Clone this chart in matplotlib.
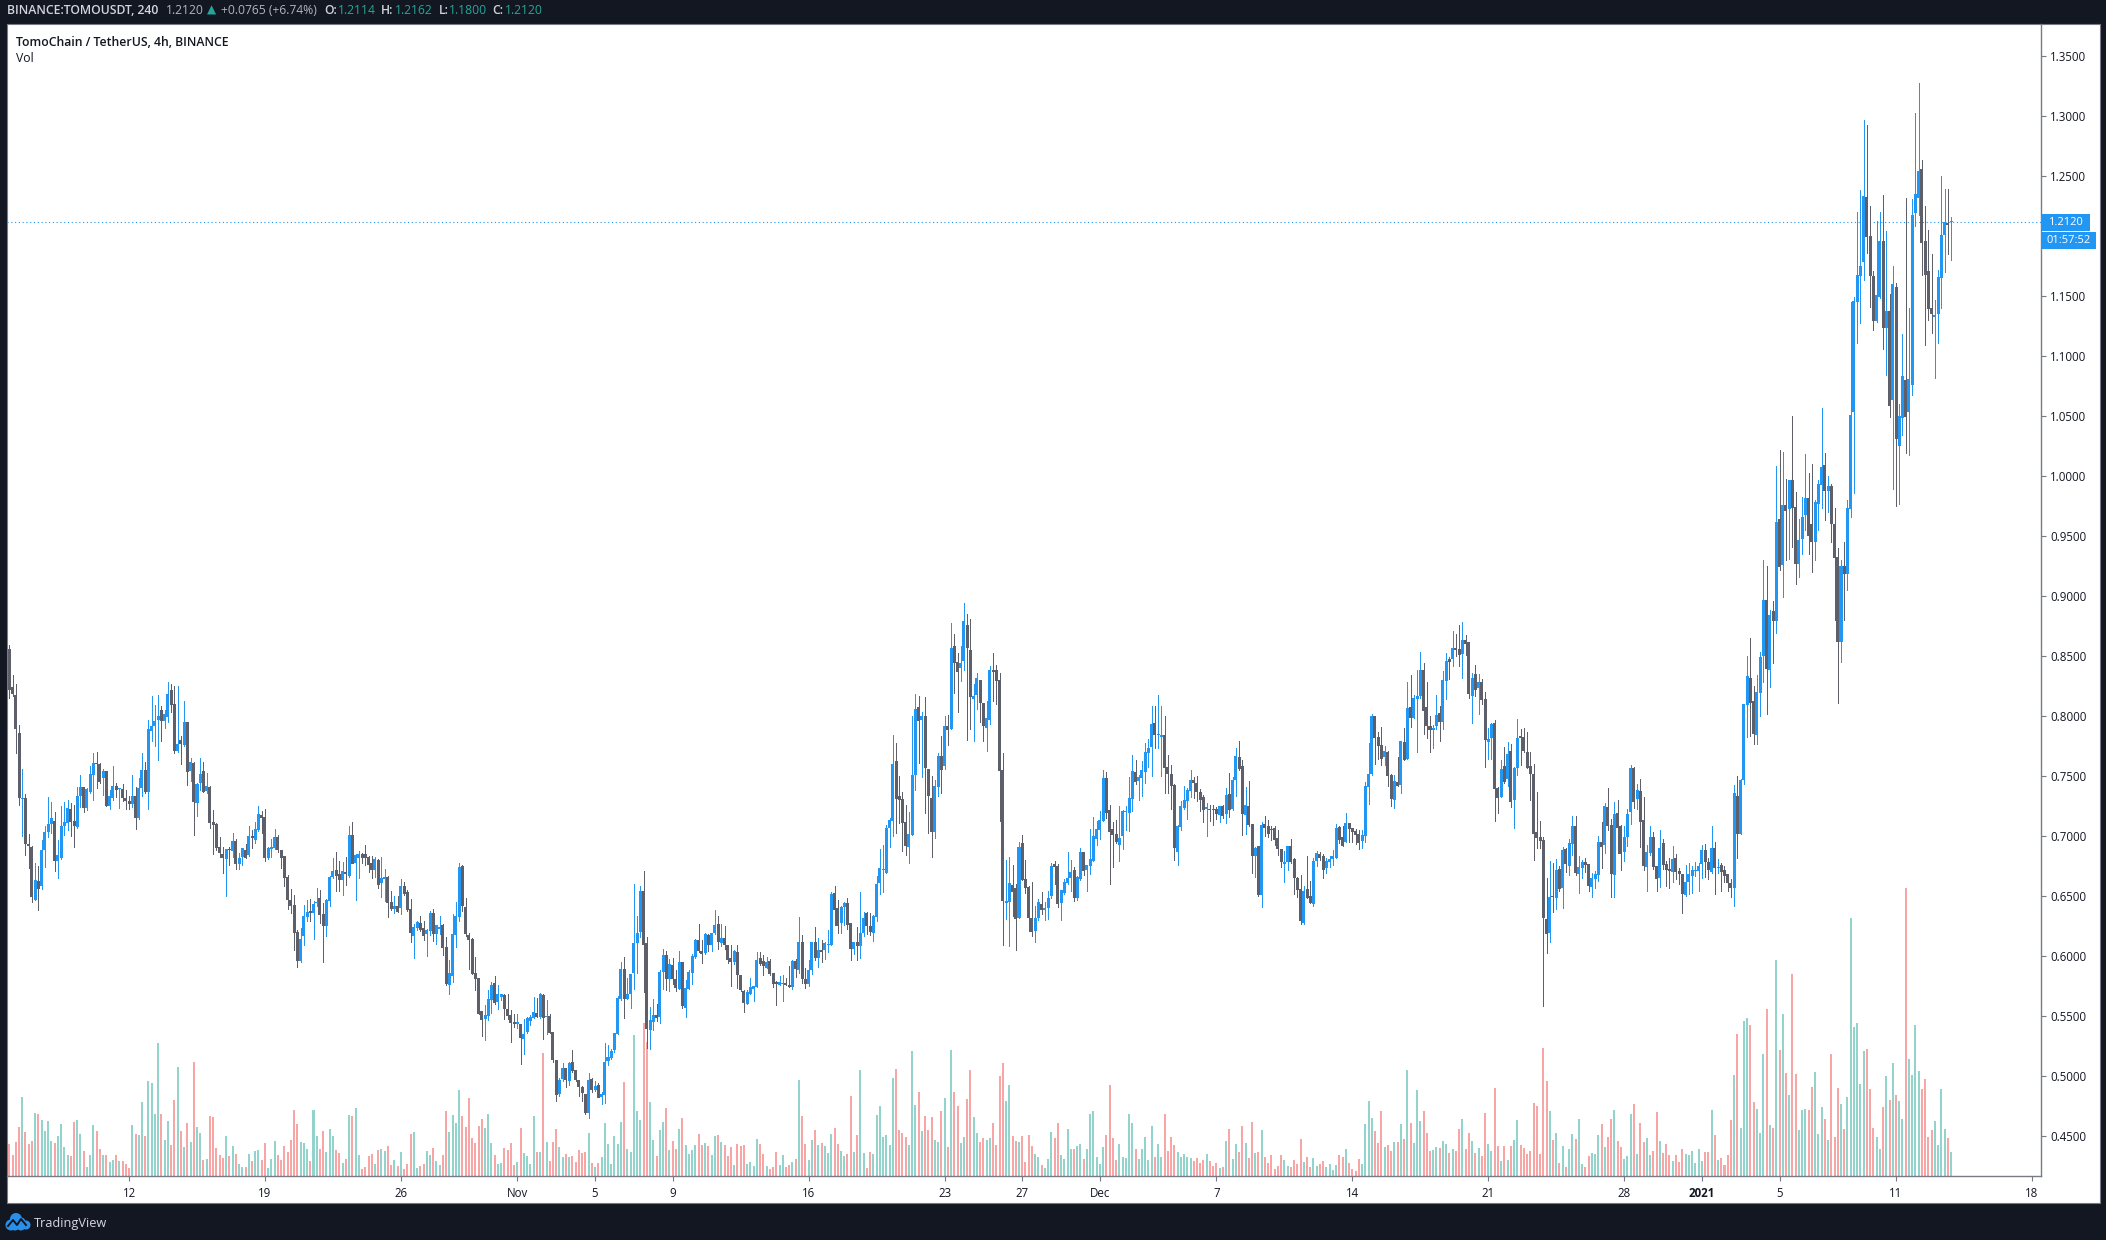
import numpy as np
import matplotlib
matplotlib.use("Agg")
import matplotlib.pyplot as plt
from matplotlib.patches import Rectangle, Circle

plt.rcParams["font.family"] = ["Open Sans", "DejaVu Sans"]

# 4h candles, TOMOUSDT
opens = [
.856,.824,.8175,.786,.7308,.732,.693,.691,.647,.6625,
.658,.688,.703,.710,.7125,.679,.682,.708,.711,.7225,
.7125,.7075,.733,.741,.723,.737,.751,.7605,.760,.748,
.754,.725,.732,.7417,.7388,.739,.732,.729,.727,.733,
.715,.74,.755,.7367,.7875,.7917,.7967,.805,.796,.799,
.8217,.81,.771,.78,.776,.795,.754,.761,.7275,.744,
.754,.7375,.741,.7114,.71,.691,.685,.681,.689,.6875,
.696,.677,.6825,.6883,.684,.70,.6967,.705,.7175,.7158,
.6817,.689,.69,.699,.6883,.6833,.666,.6467,.6425,.6197,
.5958,.6166,.6327,.6375,.636,.6444,.648,.635,.625,.6461,
.6658,.6717,.6683,.6633,.67,.6667,.7008,.6775,.6817,.685,
.685,.6825,.6775,.6717,.68,.6608,.6644,.6658,.645,.6392,
.6417,.64,.6583,.6534,.6392,.6167,.6234,.6275,.6234,.6184,
.6209,.6359,.6184,.6225,.6259,.6075,.5759,.5834,.6175,.6325,
.675,.6409,.6175,.6142,.5859,.5817,.5542,.5475,.55,.5634,
.5775,.5617,.5659,.5675,.5559,.5509,.545,.5434,.5434,.5309,
.5367,.5459,.5484,.5525,.5492,.5675,.5492,.55,.5367,.5134,
.485,.4975,.5067,.4959,.5117,.505,.4967,.4909,.485,.4692,
.4975,.4884,.4925,.4825,.4842,.5125,.515,.5217,.535,.5642,
.5892,.5642,.5684,.5859,.6109,.62,.6542,.6109,.5384,.545,
.5509,.5492,.5867,.6009,.5809,.5925,.5809,.5725,.595,.5567,
.5725,.5859,.5992,.6134,.6042,.6025,.6175,.6092,.6192,.6267,
.6109,.615,.6092,.5984,.595,.6034,.5842,.5709,.56,.5684,
.5725,.5742,.5984,.5959,.59,.5959,.5859,.5784,.5759,.5767,
.5775,.5759,.5742,.5959,.5884,.6117,.581,.577,.588,.6117,
.5983,.605,.605,.6092,.6092,.6525,.64,.6272,.6408,.6442,
.6275,.6058,.6117,.6083,.6192,.6358,.625,.6192,.6325,.6608,
.6717,.6692,.7067,.7125,.7625,.7333,.7308,.7117,.6908,.7008,
.7508,.8075,.7967,.8,.7558,.7317,.7033,.7408,.7667,.7583,
.7917,.7892,.8583,.845,.84,.8458,.8758,.855,.8142,.8175,
.83,.8108,.79,.7967,.8383,.8383,.83,.755,.6442,.645,
.6592,.6567,.6317,.6942,.6642,.6575,.6317,.6208,.6317,.6433,
.6383,.64,.65,.6767,.675,.6442,.6525,.6608,.665,.6717,
.6483,.6642,.6867,.6717,.675,.6792,.6975,.705,.7125,.7483,
.7217,.7058,.7017,.6925,.7,.72,.7192,.7308,.7533,.7458,
.7483,.7533,.7692,.7742,.7942,.7842,.7825,.7842,.7575,.7517,
.7425,.6867,.7075,.7233,.7291,.7375,.7466,.7441,.7366,.7325,
.7225,.7225,.7225,.7225,.7175,.725,.7183,.735,.7225,.7466,
.7658,.7583,.7175,.725,.71,.6833,.6916,.6508,.71,.7083,
.7058,.7066,.6983,.6891,.6766,.6783,.6916,.6808,.665,.6558,
.6275,.6558,.65,.6433,.6791,.685,.6833,.6733,.6783,.6808,
.6816,.7075,.6991,.695,.7108,.7066,.7041,.7016,.6958,.6999,
.7408,.7516,.8,.7825,.7758,.7658,.77,.7508,.73,.745,
.7425,.7783,.7641,.8075,.7983,.8141,.8166,.8383,.8075,.7916,
.7883,.7916,.8025,.795,.8291,.8475,.8475,.8566,.8558,.8516,
.8633,.8616,.8166,.835,.8233,.8283,.8141,.7783,.7816,.7941,
.74,.7325,.7583,.7475,.7708,.73,.7566,.7833,.7825,.77,
.7583,.7516,.7033,.6991,.6966,.6308,.6191,.65,.6483,.6725,
.6567,.6894,.6754,.6934,.7083,.6685,.6736,.6782,.6768,.6576,
.6645,.6676,.6952,.6929,.7241,.7092,.6679,.7193,.7086,.6868,
.6995,.7201,.7568,.7307,.7376,.7132,.6742,.686,.6989,.675,
.665,.694,.6768,.6725,.6702,.6817,.6708,.6685,.651,.6619,
.667,.671,.6708,.6765,.6883,.6782,.6699,.69,.6733,.6759,
.6716,.6682,.661,.6567,.7333,.7017,.747,.8094,.8317,.8122,
.7844,.8194,.8504,.8966,.8386,.8874,.8794,.964,.9261,.9758,
.9721,.9967,.9741,.927,.9474,.9675,.9816,.96,.945,.9766,
.9925,1.0091,.9875,.9916,.96,.9325,.862,.925,.918,.9725,
1.0533,1.145,1.1666,1.1783,1.2325,1.2,1.1666,1.1291,1.1491,1.1958,
1.1233,1.1375,1.0633,1.1575,1.025,1.0483,1.08,1.0533,1.0758,1.2191,
1.2316,1.2558,1.1958,1.1708,1.14,1.1325,1.135,1.165,1.2008,1.2108,
1.2114,
]
closes = [
.822,.818,.789,.732,.731,.693,.692,.649,.663,.656,
.688,.703,.710,.715,.679,.684,.708,.712,.723,.712,
.708,.733,.741,.723,.739,.752,.761,.760,.745,.754,
.725,.733,.742,.738,.739,.732,.729,.727,.733,.715,
.740,.755,.737,.789,.792,.796,.800,.796,.802,.818,
.809,.771,.777,.777,.795,.753,.762,.728,.743,.752,
.737,.742,.711,.709,.690,.686,.682,.689,.688,.696,
.677,.682,.690,.682,.700,.698,.706,.718,.715,.682,
.690,.691,.699,.688,.682,.665,.647,.642,.619,.596,
.614,.633,.637,.636,.643,.645,.634,.625,.647,.666,
.671,.667,.663,.671,.668,.701,.677,.684,.685,.682,
.682,.676,.672,.681,.659,.665,.666,.644,.639,.642,
.637,.658,.652,.638,.619,.624,.628,.622,.617,.622,
.636,.618,.626,.624,.607,.577,.586,.618,.633,.674,
.642,.618,.613,.585,.581,.552,.547,.551,.564,.576,
.561,.568,.568,.556,.55,.544,.543,.545,.532,.535,
.548,.549,.553,.549,.568,.548,.55,.536,.513,.484,
.497,.507,.497,.511,.504,.497,.491,.486,.469,.497,
.488,.492,.482,.485,.512,.516,.521,.536,.565,.589,
.564,.568,.585,.611,.619,.654,.609,.539,.547,.551,
.548,.587,.601,.581,.593,.581,.573,.595,.558,.573,
.587,.600,.613,.604,.602,.618,.609,.619,.626,.612,
.615,.609,.597,.595,.604,.584,.572,.561,.570,.574,
.575,.597,.593,.592,.595,.585,.577,.577,.578,.577,
.576,.574,.596,.589,.612,.581,.577,.588,.612,.598,
.605,.603,.611,.61,.652,.638,.625,.641,.644,.626,
.606,.612,.608,.619,.632,.625,.62,.633,.66,.673,
.672,.707,.713,.76,.731,.73,.711,.692,.702,.751,
.806,.796,.80,.757,.733,.703,.742,.767,.755,.792,
.788,.857,.844,.837,.844,.879,.857,.816,.817,.832,
.811,.792,.798,.838,.837,.829,.754,.646,.646,.661,
.653,.631,.691,.663,.657,.632,.62,.632,.645,.638,
.64,.648,.675,.674,.643,.655,.662,.665,.67,.648,
.666,.687,.671,.676,.681,.70,.706,.713,.748,.719,
.703,.701,.695,.698,.721,.721,.732,.754,.745,.749,
.755,.77,.773,.793,.784,.785,.784,.757,.752,.742,
.69,.708,.725,.73,.738,.747,.744,.737,.73,.722,
.724,.722,.722,.718,.725,.717,.734,.722,.747,.767,
.756,.718,.726,.709,.683,.69,.651,.709,.707,.702,
.705,.697,.689,.678,.678,.692,.678,.665,.655,.629,
.654,.648,.644,.679,.686,.682,.672,.679,.681,.683,
.707,.697,.692,.711,.706,.703,.701,.694,.701,.742,
.752,.80,.782,.775,.764,.771,.75,.731,.746,.742,
.779,.763,.807,.798,.815,.817,.838,.804,.792,.788,
.79,.801,.795,.83,.846,.845,.857,.855,.851,.863,
.86,.818,.832,.822,.828,.813,.78,.781,.793,.739,
.732,.756,.745,.768,.728,.757,.782,.782,.771,.757,
.752,.702,.698,.696,.632,.618,.649,.649,.672,.656,
.688,.677,.694,.708,.669,.674,.678,.676,.658,.665,
.668,.695,.691,.725,.708,.668,.718,.707,.685,.699,
.718,.757,.728,.738,.712,.675,.687,.699,.674,.664,
.69,.676,.672,.671,.681,.670,.668,.652,.662,.668,
.672,.672,.675,.688,.678,.672,.69,.673,.674,.670,
.667,.661,.657,.736,.702,.747,.81,.833,.811,.785,
.82,.849,.897,.839,.884,.879,.962,.924,.976,.971,
.997,.973,.927,.947,.966,.982,.95,.945,.978,.993,
1.0075,.9875,.9916,.96,.932,.862,.925,.918,.973,1.0508,
1.1458,1.1675,1.175,1.2333,1.1991,1.1666,1.1291,1.1508,1.1958,1.1233,
1.1375,1.0583,1.16,1.0308,1.05,1.0833,1.0491,1.0808,1.2175,1.235,
1.2541,1.1941,1.1675,1.1391,1.135,1.1341,1.1658,1.2008,1.2116,1.2091,
1.212,
]
highs = [
.859,.834,.827,.7925,.756,.735,.702,.692,.6775,.675,
.697,.708,.7325,.728,.72,.697,.725,.728,.73,.7275,
.726,.741,.751,.741,.74,.758,.769,.77,.7605,.756,
.754,.738,.758,.744,.74,.743,.738,.733,.751,.7405,
.748,.769,.7617,.7967,.8167,.809,.8175,.808,.805,.828,
.8267,.825,.825,.783,.8125,.795,.765,.7617,.744,.765,
.7617,.7525,.7417,.7217,.7106,.699,.691,.6894,.691,.7025,
.6975,.6858,.69,.6933,.7083,.705,.7117,.725,.7208,.7225,
.6906,.6975,.7058,.7008,.6883,.6833,.6675,.6558,.6508,.6216,
.623,.6425,.6466,.6475,.6458,.6566,.655,.6439,.6475,.6667,
.6817,.6867,.6792,.6783,.6825,.7083,.7117,.6847,.6875,.6858,
.6925,.6833,.6833,.6822,.6811,.6828,.6725,.6667,.6542,.65,
.65,.6642,.662,.655,.6475,.6267,.6292,.6334,.6292,.6225,
.6375,.6392,.6259,.6334,.6267,.6159,.5967,.635,.645,.6775,
.6759,.6484,.6192,.615,.5992,.5817,.5542,.5592,.5717,.5784,
.5834,.5759,.5684,.5684,.5684,.555,.5517,.5517,.5434,.5475,
.5492,.5509,.5659,.565,.5692,.5684,.5634,.5517,.5367,.5134,
.4984,.5109,.5067,.5117,.5217,.505,.4967,.4917,.485,.5025,
.4984,.4959,.4942,.4864,.5275,.5259,.5225,.5359,.5667,.595,
.5992,.5817,.585,.66,.6334,.6584,.6709,.6159,.5575,.5642,
.56,.5884,.6059,.6042,.5975,.5984,.5884,.6042,.595,.58,
.5884,.6017,.6142,.6267,.6134,.6192,.6184,.6192,.6384,.6334,
.6267,.625,.6092,.6092,.605,.6092,.5842,.5717,.5717,.5817,
.575,.6034,.6034,.6009,.5992,.5975,.5859,.5792,.5834,.5842,
.5817,.5917,.5967,.5973,.6325,.6175,.590,.597,.6117,.6242,
.615,.6133,.6117,.6217,.6533,.6583,.6467,.6417,.645,.6483,
.6275,.6117,.6242,.6533,.6367,.6367,.6358,.6342,.6667,.6892,
.6925,.7092,.715,.7842,.7775,.75,.7367,.7258,.72,.8,
.8183,.8167,.8033,.8158,.7558,.75,.7467,.7692,.7833,.8,
.8008,.8775,.8683,.8525,.8583,.8942,.885,.8808,.8267,.8358,
.83,.8108,.8125,.8417,.8525,.8425,.8358,.7692,.68,.6825,
.6758,.66,.695,.7008,.68,.6583,.6617,.6417,.6475,.6533,
.645,.6542,.6775,.6792,.6767,.655,.6642,.6867,.68,.6742,
.6667,.69,.6867,.6758,.7058,.7158,.7125,.7208,.755,.7533,
.7258,.7117,.7133,.725,.7217,.725,.7492,.7675,.7633,.7508,
.7625,.7775,.7808,.8083,.8083,.8175,.8083,.8,.7675,.7592,
.7433,.7092,.7291,.7416,.74,.755,.7491,.75,.7391,.7341,
.7275,.7258,.7258,.7241,.725,.7258,.74,.7525,.7491,.7733,
.7791,.7633,.7408,.7458,.71,.6908,.6916,.7116,.7166,.7133,
.7083,.7083,.705,.6891,.6875,.6916,.6975,.6816,.6658,.6675,
.6583,.6833,.6625,.6816,.6875,.6866,.685,.6816,.6833,.6883,
.71,.7083,.7083,.7191,.7108,.7066,.7058,.705,.705,.745,
.7775,.8016,.8,.7866,.7908,.775,.7708,.7516,.7508,.7658,
.7791,.79,.8283,.8341,.8175,.8383,.8533,.8441,.8283,.8,
.7925,.8175,.8083,.8375,.8525,.8491,.8708,.8683,.8758,.8783,
.8675,.8616,.8358,.8425,.835,.8308,.8199,.79,.7941,.7966,
.7408,.7633,.7741,.7783,.7766,.7575,.7975,.789,.79,.7866,
.77,.76,.7366,.7125,.6991,.665,.6791,.6775,.6808,.6748,
.6909,.6903,.6974,.7167,.7167,.6831,.68,.6817,.6768,.6693,
.6705,.7,.7115,.7276,.7396,.7141,.7284,.7302,.7095,.7083,
.7224,.7591,.7577,.7434,.7474,.7325,.6926,.7083,.7032,.675,
.7049,.6974,.6788,.6817,.6917,.6854,.6733,.6685,.6759,.6776,
.675,.6782,.6774,.6926,.6934,.6817,.7083,.6949,.6808,.6774,
.6748,.6682,.6642,.7425,.75,.7474,.81,.8501,.865,.8251,
.8343,.8533,.9299,.925,.8883,.8957,1.0082,1.0217,1.02,.9976,
.9967,1.0501,.9867,.964,.9825,1.0183,1.0025,1.01,.98,.9966,
1.0566,1.0191,.9999,.9933,.9733,.94,.93,.945,.98,1.145,
1.1494,1.22,1.2383,1.2966,1.2925,1.225,1.1708,1.2125,1.22,1.2341,
1.2041,1.1516,1.175,1.1608,1.06,1.1183,1.2316,1.14,1.2308,1.3025,
1.3275,1.2633,1.225,1.205,1.185,1.1466,1.1716,1.25,1.2391,1.2391,
1.2162,
]
lows = [
.8153,.8167,.7694,.7258,.7,.6842,.673,.645,.6467,.6383,
.6556,.6744,.6994,.7028,.6711,.6653,.6811,.7008,.705,.7,
.6911,.7064,.7244,.7203,.7217,.7356,.73,.74,.7439,.7342,
.725,.7225,.73,.7328,.7233,.7292,.7225,.7225,.7244,.7058,
.7139,.7333,.7356,.7225,.7792,.775,.7633,.7792,.79,.795,
.8033,.7694,.77,.76,.775,.7425,.7458,.7008,.7167,.7383,
.7367,.7361,.7067,.685,.6883,.6822,.6692,.65,.6758,.6825,
.6725,.6725,.6758,.6817,.6833,.69,.6942,.7042,.7025,.6792,
.6808,.6825,.6892,.6867,.6733,.6583,.6392,.6358,.605,.5911,
.595,.6091,.6291,.6291,.6141,.6416,.6275,.595,.6166,.642,
.6647,.6542,.6542,.6508,.6592,.6661,.6772,.6467,.6647,.6775,
.6758,.67,.665,.6656,.6567,.6489,.6458,.6325,.6383,.6356,
.6364,.635,.6509,.6375,.6117,.5984,.6217,.6209,.6134,.5999,
.6175,.6125,.61,.6184,.6009,.5759,.5684,.5784,.6075,.6292,
.6375,.6167,.5892,.585,.5717,.5517,.5334,.53,.5467,.5525,
.56,.5559,.5634,.5475,.5475,.5284,.5409,.54,.51,.5184,
.5359,.5425,.5484,.5492,.5484,.5309,.535,.5359,.5117,.4792,
.4834,.4959,.4909,.4925,.5034,.4959,.4834,.4792,.4684,.465,
.4867,.4875,.4825,.4767,.4775,.5092,.5142,.52,.535,.5634,
.5484,.5642,.5567,.5725,.5859,.6159,.57,.5234,.5225,.5384,
.5459,.5442,.5725,.5717,.5709,.5767,.5709,.5725,.5567,.5492,
.5725,.5767,.5984,.6034,.5942,.6017,.6042,.6042,.6184,.6059,
.6084,.6059,.5942,.575,.5934,.5734,.5709,.5534,.56,.5684,
.5625,.5742,.5925,.5842,.59,.5842,.5742,.5592,.5759,.5625,
.5759,.5742,.5725,.5825,.5859,.5772,.573,.575,.585,.5967,
.5911,.5953,.5978,.6036,.6092,.6258,.6192,.6192,.6258,.6225,
.5967,.6017,.5967,.5983,.6167,.6183,.6175,.6125,.6292,.6517,
.6533,.6692,.6908,.7,.7025,.7108,.6875,.6842,.6775,.7008,
.7383,.7608,.7492,.7192,.7025,.6825,.6983,.7333,.7358,.7558,
.7758,.7892,.8192,.8033,.8292,.8383,.78,.7892,.7792,.8058,
.795,.7792,.7708,.7933,.8125,.81,.7125,.6092,.6308,.6083,
.6333,.605,.6317,.6633,.6525,.6208,.6167,.6117,.63,.635,
.63,.6308,.6483,.66,.6408,.63,.6517,.66,.6542,.6458,
.6467,.6633,.6675,.6542,.6683,.6792,.6925,.6975,.7125,.715,
.66,.6742,.6942,.6792,.6892,.705,.7042,.7208,.7433,.73,
.7333,.7442,.7575,.75,.7733,.7733,.75,.7358,.7358,.7225,
.68,.6758,.705,.7225,.7141,.7325,.7316,.7291,.7208,.7116,
.6999,.7125,.7091,.7141,.7116,.715,.7108,.7158,.7216,.7333,
.755,.7008,.7016,.7083,.669,.6658,.65,.6408,.6999,.6991,
.6966,.6925,.6841,.6741,.6616,.6716,.6775,.6516,.6491,.6266,
.6266,.6483,.6441,.6416,.675,.68,.665,.669,.6741,.6758,
.6816,.6941,.6916,.695,.695,.695,.6933,.6891,.69,.695,
.7266,.7508,.76,.7641,.7591,.7591,.7416,.725,.7233,.7416,
.7358,.7633,.7641,.7908,.7983,.77,.815,.785,.7816,.77,
.7733,.7891,.7791,.7891,.8141,.8308,.8416,.85,.8416,.8316,
.8508,.815,.7941,.8166,.8016,.81,.7575,.7641,.7641,.7125,
.7191,.7325,.7441,.7416,.7241,.7066,.7508,.7591,.77,.7566,
.73,.68,.69,.69,.5583,.6025,.6116,.6366,.6391,.6544,
.64,.67,.6679,.6845,.6679,.6521,.665,.6696,.6541,.6495,
.6567,.6627,.6733,.6862,.7046,.6495,.6495,.686,.6716,.6794,
.6917,.7104,.7233,.7224,.6909,.6716,.6541,.6845,.6725,.6541,
.6576,.6725,.6584,.6567,.6616,.6642,.6601,.6357,.6501,.6513,
.6521,.667,.6541,.665,.6659,.6642,.6693,.6518,.6693,.6541,
.6616,.6541,.6492,.642,.6817,.7017,.7434,.7827,.7835,.7766,
.7769,.7999,.8286,.8019,.8243,.8444,.8688,.9218,.8995,.9302,
.931,.9411,.9104,.9161,.935,.955,.935,.92,.93,.955,
.9733,.9633,.97,.945,.88,.8105,.845,.88,.905,.9658,
.9858,1.1108,1.1275,1.1633,1.1858,1.1408,1.1216,1.128,1.1483,1.1058,
1.0841,1.0491,.9891,.975,.9766,1.0341,1.0191,1.0175,1.0675,1.2083,
1.2175,1.1675,1.1091,1.13,1.1191,1.0816,1.1108,1.14,1.17,1.185,
1.18,
]
volumes = [
32,21,34,49,79,44,32,35,63,62,
56,45,55,35,33,40,52,29,21,20,
54,56,42,25,9,21,51,45,27,21,
21,14,16,21,15,15,12,8,51,42,
41,74,40,95,93,62,133,62,36,55,
31,76,109,45,29,53,34,114,49,43,
16,17,60,59,28,21,18,40,20,30,
22,12,9,9,22,15,25,26,16,33,
8,17,35,21,16,30,24,36,66,52,
34,33,27,15,66,40,27,45,24,47,
40,26,23,13,17,61,60,68,21,7,
9,20,22,12,26,27,25,30,11,16,
10,24,7,12,42,44,8,10,12,25,
21,28,15,11,21,65,44,61,53,86,
60,49,78,38,33,50,57,48,62,33,
21,12,13,28,26,33,11,14,48,23,
20,12,60,24,24,123,34,15,34,47,
29,19,22,19,20,14,26,23,24,43,
13,9,13,19,53,32,12,40,32,54,
94,27,24,141,65,56,153,134,74,36,
20,46,54,68,26,35,27,47,58,31,
22,26,31,42,
31,33,30,21,40,41,34,31,20,29,
11,32,30,31,12,14,10,37,32,22,
10,7,9,24,11,21,9,11,14,17,
96,60,32,16,36,46,31,33,30,23,
42,48,32,25,20,22,80,24,41,106,
23,8,24,22,61,70,39,41,31,98,
107,46,43,39,31,125,71,84,45,60,
46,59,36,34,65,78,29,126,84,70,
33,39,77,106,59,43,34,38,36,38,
53,31,100,113,75,91,40,35,34,40,
14,41,30,22,19,11,8,17,44,38,
53,21,17,47,27,27,30,32,17,27,
62,65,19,12,29,41,91,38,16,32,
19,18,62,53,27,17,27,39,16,50,
19,32,19,62,25,39,31,24,19,22,
19,18,15,18,13,16,22,15,10,13,
8,9,35,47,17,32,24,50,33,18,
54,23,24,46,19,13,21,7,10,21,
16,10,9,16,12,37,14,19,9,18,
10,12,15,9,12,6,11,21,19,27,
13,7,5,17,
12,52,75,58,45,33,65,29,31,25,
34,34,52,37,106,53,33,86,55,65,
43,25,26,29,28,35,32,23,27,25,
47,57,27,43,35,23,28,20,63,32,
25,88,30,15,30,16,30,36,56,31,
28,22,25,73,70,22,128,95,65,36,
43,13,30,9,27,42,37,57,12,9,
20,23,22,41,52,29,39,57,66,35,
29,17,20,62,72,22,53,34,38,21,
25,64,35,23,32,21,15,21,14,27,
22,21,25,13,27,15,24,24,66,41,
16,18,11,21,56,101,142,48,155,158,
151,74,67,43,122,167,51,48,216,126,
162,103,81,202,102,46,66,67,66,89,
104,42,69,57,36,122,39,88,72,47,
79,258,149,153,92,125,127,87,48,39,
27,69,100,76,113,81,75,57,288,117,
101,151,105,87,97,39,46,55,31,87,
47,38,24,
]

price_ticks = [.45, .50, .55, .60, .65, .70, .75, .80, .85, .90, .95, 1.00,
               1.05, 1.10, 1.15, 1.20, 1.25, 1.30, 1.35]
# candle index where each date label sits (6 candles a day, Oct 12 = 37)
date_days = [0, 7, 14, 20, 24, 28, 35, 42, 46, 50, 56, 63, 70, 77, 81, 85, 91, 98]
date_labels = ["12", "19", "26", "Nov", "5", "9", "16", "23", "27", "Dec", "7",
               "14", "21", "28", "2021", "5", "11", "18"]

last_price = 1.2120

DARK = "#131722"
BLUE = "#2196f3"
GREY = "#5d606b"
TEAL = "#26a69a"
AXIS = "#787b86"

W, H = 2106, 1240
fig = plt.figure(figsize=(W / 100, H / 100), dpi=100, facecolor=DARK)

# frame and everything outside the plot, in pixel coordinates
back = fig.add_axes([0, 0, 1, 1], zorder=0)
back.set_xlim(0, W)
back.set_ylim(H, 0)
back.axis("off")
back.add_patch(Rectangle((7, 24), 2093, 1179, fc="white", ec=AXIS, lw=0.8))

rect = [7 / W, 1 - 1176 / H, (2041 - 7) / W, (1176 - 24) / H]

# volume pane shares the price pane
vol = fig.add_axes(rect, zorder=1)
vol.patch.set_visible(False)
vol.axis("off")

ax = fig.add_axes(rect, zorder=2)
ax.patch.set_visible(False)

opens = np.array(opens)
closes = np.array(closes)
highs = np.array(highs)
lows = np.array(lows)
x = np.arange(len(closes))
up = closes >= opens

vol.bar(x, volumes, width=0.62, color=np.where(up, "#92d3cb", "#f7a5a5"), linewidth=0,
        antialiased=False)
vol.set_xlim(-0.71, 627.8)
vol.set_ylim(0, 1152)

cols = np.where(up, BLUE, GREY)
ax.vlines(x, lows, highs, colors=cols, linewidth=0.72, antialiased=False, zorder=3)
bodies = np.maximum(np.abs(closes - opens), 0.0009)
ax.bar(x, bodies, bottom=np.minimum(opens, closes), width=0.93, color=cols,
       linewidth=0, antialiased=False, zorder=4)

ax.axhline(last_price, color=BLUE, lw=0.8, ls=(0, (1, 2.4)), zorder=2)

ax.set_xlim(-0.71, 627.8)
ax.set_ylim(.41667, 1.37667)

for s in ["top", "left"]:
    ax.spines[s].set_visible(False)
ax.spines["right"].set_color(AXIS)
ax.spines["bottom"].set_color(AXIS)
ax.spines["right"].set_linewidth(1.0)
ax.spines["bottom"].set_linewidth(1.0)

ax.yaxis.tick_right()
ax.set_yticks(price_ticks)
ax.set_yticklabels(["%.4f" % p for p in price_ticks])
ax.tick_params(axis="y", length=3.6, width=0.8, color=AXIS, pad=3, labelsize=8.3,
               labelcolor=DARK)

ax.set_xticks([37 + d * 6 for d in date_days])
ax.set_xticklabels(date_labels)
ax.tick_params(axis="x", length=3.6, width=0.8, color=AXIS, pad=4, labelsize=8.3,
               labelcolor=DARK)
for lab in ax.get_xticklabels():
    if lab.get_text() == "2021":
        lab.set_fontweight("bold")

# overlay: header, legend, last price tags, logo
top = fig.add_axes([0, 0, 1, 1], zorder=5)
top.set_xlim(0, W)
top.set_ylim(H, 0)
top.axis("off")
top.patch.set_visible(False)

HEAD = "#d1d4dc"
hy = 10.5
top.text(7, hy, "BINANCE:TOMOUSDT, 240", color=HEAD, fontsize=8.8, fontweight="semibold", va="center")
top.text(166, hy, "1.2120", color="#b2b5be", fontsize=8.7, va="center")
top.text(207, hy, "▲", color=TEAL, fontsize=8.6, va="center", family="DejaVu Sans")
top.text(221, hy, "+0.0765 (+6.74%)", color="#b2b5be", fontsize=8.7, va="center")
for px, name in [(324, "O:"), (381, "H:"), (439, "L:"), (492, "C:")]:
    top.text(px, hy, name, color=HEAD, fontsize=8.7, fontweight="semibold", va="center")
for px, val in [(338, "1.2114"), (395, "1.2162"), (449, "1.1800"), (505, "1.2120")]:
    top.text(px, hy, val, color=TEAL, fontsize=8.7, va="center")

top.text(16, 42.5, "TomoChain / TetherUS, 4h, BINANCE", color=DARK, fontsize=8.8,
         fontweight="semibold", va="center")
top.text(16, 59, "Vol", color=DARK, fontsize=8.8, va="center")

top.add_patch(Rectangle((2041, 214), 49, 17, fc=BLUE, ec="none"))
top.add_patch(Rectangle((2041, 232), 55, 17, fc=BLUE, ec="none"))
top.text(2065.5, 222.5, "1.2120", color="white", fontsize=8.0, ha="center", va="center")
top.text(2068.5, 240.5, "01:57:52", color="white", fontsize=8.0, ha="center", va="center")

# TradingView cloud
for cx, cy, r in [(11, 1225, 5.5), (16, 1219, 6), (21, 1222, 4.5), (26, 1225, 4.5), (15, 1226, 4.5), (21, 1226, 4.5)]:
    top.add_patch(Circle((cx, cy), r, fc="#2a8fe8", ec="none"))
top.plot([8, 13, 17, 21, 26], [1226, 1220, 1225, 1219, 1225], color=DARK, lw=1.4)
top.text(34, 1223, "TradingView", color="#d6d8de", fontsize=9.2, va="center")

fig.savefig("out.png", dpi=100, facecolor=DARK)
